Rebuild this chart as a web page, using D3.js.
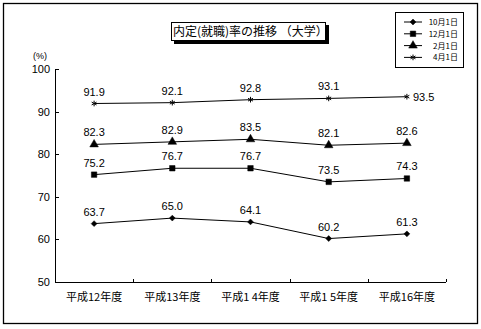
<!DOCTYPE html>
<html><head><meta charset="utf-8">
<script src="https://cdn.jsdelivr.net/npm/d3@7"></script>
<style>
body{margin:0;background:#fff;}
svg{display:block;}
text{font-family:"Liberation Sans","Noto Sans CJK JP",sans-serif;fill:#000;}
.jp{font-family:"Noto Sans CJK JP",sans-serif;}
</style></head>
<body>
<script>
const categories = ["平成12年度","平成13年度","平成1 4年度","平成1 5年度","平成16年度"];
const seriesNames = ["10月1日","12月1日","2月1日","4月1日"];
const oct1 = [63.7, 65.0, 64.1, 60.2, 61.3];
const dec1 = [75.2, 76.7, 76.7, 73.5, 74.3];
const feb1 = [82.3, 82.9, 83.5, 82.1, 82.6];
const apr1 = [91.9, 92.1, 92.8, 93.1, 93.5];
const yTicks = [50, 60, 70, 80, 90, 100];
const title = "内定(就職)率の推移 （大学）";

const W = 481, H = 329;
const svg = d3.select("body").append("svg").attr("width", W).attr("height", H);

// outer frame
svg.append("rect").attr("x", 3.5).attr("y", 3.5).attr("width", 474).attr("height", 320)
  .attr("fill", "#fff").attr("stroke", "#000").attr("stroke-width", 1.3);

const x = d3.scaleBand().domain(categories).range([55, 446]);
const y = d3.scaleLinear().domain([50, 100]).range([282, 69]);

const g = svg.append("g");
// y axis
g.append("line").attr("x1", 55.5).attr("x2", 55.5).attr("y1", y(100)).attr("y2", y(50)).attr("stroke", "#000");
yTicks.forEach(t => {
  g.append("line").attr("x1", 55.5).attr("x2", 59).attr("y1", Math.round(y(t)) + 0.5).attr("y2", Math.round(y(t)) + 0.5).attr("stroke", "#000");
  g.append("text").attr("x", 50).attr("y", y(t) + 4).attr("text-anchor", "end").attr("font-size", 11).text(t);
});
g.append("text").attr("x", 33).attr("y", 59).attr("font-size", 9).text("(%)");
// x axis
g.append("line").attr("x1", 55).attr("x2", 446).attr("y1", 282.5).attr("y2", 282.5).attr("stroke", "#000");
categories.forEach((c, i) => {
  const xe = x(c) + x.bandwidth();
  g.append("line").attr("x1", Math.round(xe) + 0.5).attr("x2", Math.round(xe) + 0.5).attr("y1", 282).attr("y2", 279).attr("stroke", "#000");
  g.append("text").attr("class", "jp").attr("x", x(c) + x.bandwidth() / 2).attr("y", 301)
    .attr("text-anchor", "middle").attr("font-size", 11).text(c);
});

const cx = c => x(c) + x.bandwidth() / 2;
const symbols = [d3.symbolDiamond2, d3.symbolSquare, d3.symbolTriangle, d3.symbolAsterisk];
const symSizes = [22, 30, 32, 22];
const allSeries = [oct1, dec1, feb1, apr1];

const line = d3.line().x((d, i) => cx(categories[i])).y(d => y(d));
allSeries.forEach((vals, si) => {
  g.append("path").attr("d", line(vals)).attr("fill", "none").attr("stroke", "#000").attr("stroke-width", 1);
  vals.forEach((v, i) => {
    g.append("path").attr("d", d3.symbol().type(symbols[si]).size(symSizes[si])())
      .attr("transform", `translate(${cx(categories[i])},${y(v)})`)
      .attr("fill", "#000").attr("stroke", "#000").attr("stroke-width", si === 3 ? 1 : 0.5);
    const last = (si === 3 && i === 4);
    g.append("text")
      .attr("x", last ? cx(categories[i]) + 6 : cx(categories[i]))
      .attr("y", last ? y(v) + 4 : y(v) - 8)
      .attr("text-anchor", last ? "start" : "middle")
      .attr("font-size", 11).text(v.toFixed(1));
  });
});

// title box with shadow
svg.append("rect").attr("x", 174).attr("y", 25).attr("width", 155).attr("height", 19).attr("fill", "#000");
svg.append("rect").attr("x", 171.5).attr("y", 22.5).attr("width", 154).attr("height", 18).attr("fill", "#fff").attr("stroke", "#000");
svg.append("text").attr("class", "jp").attr("x", 173).attr("y", 36).attr("font-size", 12).text(title);

// legend
svg.append("rect").attr("x", 395.5).attr("y", 12.5).attr("width", 68).attr("height", 55).attr("fill", "#fff").attr("stroke", "#000");
seriesNames.forEach((n, i) => {
  const ly = 22 + i * 11.8;
  svg.append("line").attr("x1", 404).attr("x2", 422).attr("y1", ly).attr("y2", ly).attr("stroke", "#000");
  svg.append("path").attr("d", d3.symbol().type(symbols[i]).size(symSizes[i])())
    .attr("transform", `translate(413,${ly})`).attr("fill", "#000").attr("stroke", "#000").attr("stroke-width", i === 3 ? 1 : 0.5);
  svg.append("text").attr("class", "jp").attr("x", 458).attr("y", ly + 3).attr("text-anchor", "end").attr("font-size", 8).text(n);
});
</script>
</body></html>
